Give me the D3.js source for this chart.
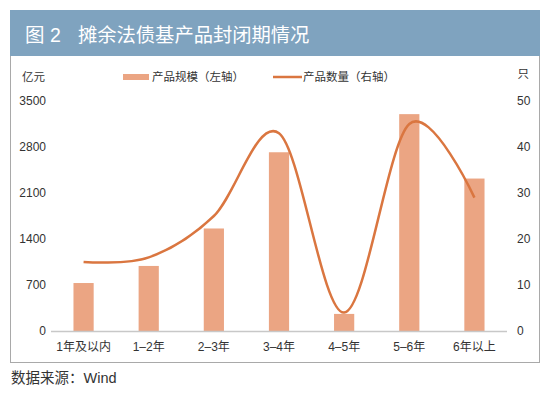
<!DOCTYPE html>
<html>
<head>
<meta charset="utf-8">
<script src="https://cdn.jsdelivr.net/npm/d3@7"></script>
<style>
  body { margin: 0; background: #fff; }
  text { font-family: "Liberation Sans", "Noto Sans CJK SC", sans-serif; }
</style>
</head>
<body>
<div id="vis"></div>
<script>
// categories and values
const categories = ['1年及以内', '1–2年', '2–3年', '3–4年', '4–5年', '5–6年', '6年以上']
const scaleValues = [730, 990, 1560, 2720, 260, 3300, 2320]   // 亿元, left axis
const countValues = [15, 16, 25, 43, 4, 45, 29]              // 只, right axis
const leftTicks = [0, 700, 1400, 2100, 2800, 3500]
const rightTicks = [0, 10, 20, 30, 40, 50]

const W = 550, H = 394
const plot = { left: 51, right: 507, top: 101, bottom: 331 }

const barColor = '#eba583'
const lineColor = '#da7640'
const textColor = '#333'

const svg = d3.select('#vis').append('svg')
  .attr('width', W)
  .attr('height', H)

// frame + header
svg.append('rect')
  .attr('x', 10.5).attr('y', 10.5)
  .attr('width', 529).attr('height', 352)
  .attr('fill', 'none').attr('stroke', '#a9a9a9').attr('stroke-width', 1)

svg.append('rect')
  .attr('x', 10).attr('y', 10)
  .attr('width', 530).attr('height', 46)
  .attr('fill', '#7fa3bf')

svg.append('text')
  .attr('x', 25).attr('y', 42)
  .attr('fill', '#fff')
  .attr('font-size', 19.5)
  .text('图 2')

svg.append('text')
  .attr('x', 78).attr('y', 42)
  .attr('fill', '#fff')
  .attr('font-size', 19.3)
  .text('摊余法债基产品封闭期情况')

// scales
const x = d3.scaleBand()
  .domain(categories)
  .range([plot.left, plot.right])
  .paddingInner(0.69)
  .paddingOuter(0.345)

const yLeft = d3.scaleLinear().domain([0, 3500]).range([plot.bottom, plot.top])
const yRight = d3.scaleLinear().domain([0, 50]).range([plot.bottom, plot.top])

// axis labels
svg.selectAll('.ltick')
  .data(leftTicks)
  .enter().append('text')
  .attr('class', 'ltick')
  .attr('x', 46)
  .attr('y', d => yLeft(d) + 4)
  .attr('text-anchor', 'end')
  .attr('font-size', 12)
  .attr('fill', textColor)
  .text(d => d)

svg.selectAll('.rtick')
  .data(rightTicks)
  .enter().append('text')
  .attr('class', 'rtick')
  .attr('x', 517)
  .attr('y', d => yRight(d) + 4)
  .attr('font-size', 12)
  .attr('fill', textColor)
  .text(d => d)

svg.append('text')
  .attr('x', 22).attr('y', 81)
  .attr('font-size', 11.5).attr('fill', textColor)
  .text('亿元')

svg.append('text')
  .attr('x', 529).attr('y', 78)
  .attr('text-anchor', 'end')
  .attr('font-size', 11.5).attr('fill', textColor)
  .text('只')

// bars
svg.selectAll('.bar')
  .data(scaleValues)
  .enter().append('rect')
  .attr('class', 'bar')
  .attr('x', (d, i) => x(categories[i]))
  .attr('y', d => yLeft(d))
  .attr('width', x.bandwidth())
  .attr('height', d => yLeft(0) - yLeft(d))
  .attr('fill', barColor)

// baseline
svg.append('line')
  .attr('x1', plot.left).attr('x2', plot.right)
  .attr('y1', plot.bottom + 0.5).attr('y2', plot.bottom + 0.5)
  .attr('stroke', '#c8c8c8').attr('stroke-width', 1.5)

// category labels
svg.selectAll('.cat')
  .data(categories)
  .enter().append('text')
  .attr('class', 'cat')
  .attr('x', d => x(d) + x.bandwidth() / 2)
  .attr('y', 351)
  .attr('text-anchor', 'middle')
  .attr('font-size', 12)
  .attr('fill', textColor)
  .text(d => d)

// smoothed line
const line = d3.line()
  .x((d, i) => x(categories[i]) + x.bandwidth() / 2)
  .y(d => yRight(d))
  .curve(d3.curveCardinal.tension(0))

svg.append('path')
  .datum(countValues)
  .attr('d', line)
  .attr('fill', 'none')
  .attr('stroke', lineColor)
  .attr('stroke-width', 2.5)

// legend
svg.append('rect')
  .attr('x', 123).attr('y', 74)
  .attr('width', 26).attr('height', 6)
  .attr('fill', barColor)
svg.append('text')
  .attr('x', 152).attr('y', 81)
  .attr('font-size', 11.5).attr('fill', textColor)
  .text('产品规模（左轴）')

svg.append('line')
  .attr('x1', 273).attr('x2', 302)
  .attr('y1', 77).attr('y2', 77)
  .attr('stroke', lineColor).attr('stroke-width', 2.5)
svg.append('text')
  .attr('x', 303).attr('y', 81)
  .attr('font-size', 11.5).attr('fill', textColor)
  .text('产品数量（右轴）')

// source
svg.append('text')
  .attr('x', 11).attr('y', 383)
  .attr('font-size', 14.5).attr('fill', textColor)
  .text('数据来源：Wind')
</script>
</body>
</html>
